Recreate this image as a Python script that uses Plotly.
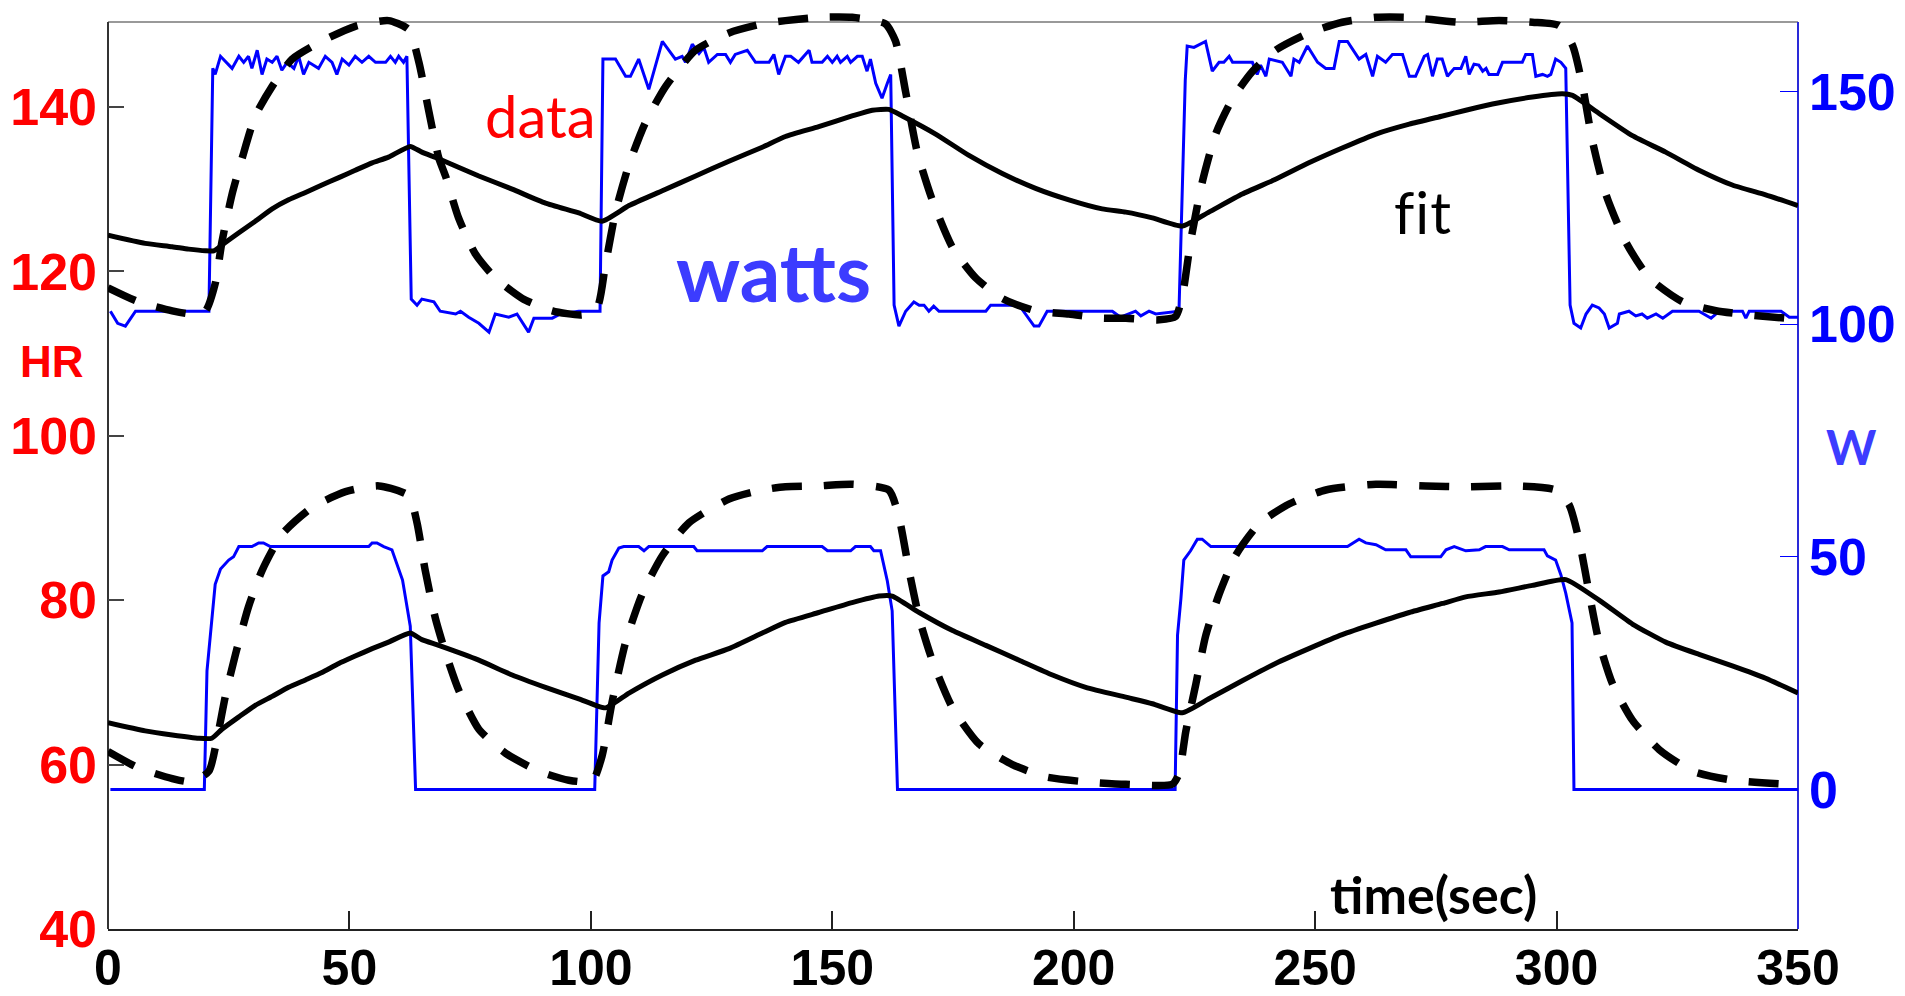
import plotly.graph_objects as go

# ---------------- data ----------------
# heart rate data, upper run (time s, HR bpm)
hr_upper = [(0, 124.4), (7.7, 123.4), (13.3, 123.0), (16.7, 122.7), (20.2, 122.5), (21.9, 122.5),
            (23.6, 123.2), (27.1, 124.7), (30.5, 126.1), (34.0, 127.6), (37.4, 128.7), (40.9, 129.6),
            (44.3, 130.5), (47.8, 131.4), (51.2, 132.3), (54.7, 133.2), (58.1, 133.9), (62.6, 135.2),
            (65.0, 134.5), (68.5, 133.7), (76.8, 131.6), (83.7, 130.0), (90.6, 128.3), (97.5, 127.1),
            (102.3, 126.1), (107.9, 128.0), (114.8, 129.8), (121.7, 131.6), (128.6, 133.4), (135.5, 135.1),
            (140.3, 136.4), (147.2, 137.6), (154.1, 138.9), (158.3, 139.6), (161.7, 139.7), (164.5, 138.9),
            (171.4, 136.7), (178.3, 134.1), (185.2, 131.9), (192.1, 130.1), (199.0, 128.7), (205.9, 127.6),
            (210.8, 127.2), (216.3, 126.5), (222.5, 125.5), (228.0, 127.2), (234.9, 129.4), (241.8, 131.2),
            (248.7, 133.2), (255.6, 135.0), (262.6, 136.7), (269.5, 137.9), (276.4, 138.9), (281.2, 139.6),
            (288.1, 140.5), (295.0, 141.2), (301.2, 141.6), (303.3, 141.4), (308.8, 139.2), (315.7, 136.5),
            (322.6, 134.5), (329.5, 132.3), (336.4, 130.5), (343.3, 129.3), (350, 128.0)]

# heart rate data, lower run
hr_lower = [(0, 65.1), (7.7, 64.1), (13.3, 63.6), (18.8, 63.2), (21.5, 63.2), (23.6, 64.3), (27.1, 65.8),
            (30.5, 67.2), (34.0, 68.3), (37.4, 69.4), (40.9, 70.3), (44.3, 71.2), (47.8, 72.3), (51.2, 73.2),
            (54.7, 74.1), (58.1, 74.9), (62.6, 76.0), (65.0, 75.2), (68.5, 74.5), (76.8, 72.7), (83.7, 70.9),
            (90.6, 69.4), (97.5, 68.0), (103.0, 66.9), (107.9, 68.7), (114.8, 70.9), (121.7, 72.7),
            (128.6, 74.1), (135.5, 76.0), (140.3, 77.3), (147.2, 78.5), (154.1, 79.7), (159.7, 80.5),
            (162.4, 80.5), (168.0, 78.5), (174.9, 76.3), (181.8, 74.5), (188.7, 72.7), (195.6, 70.9),
            (202.5, 69.4), (210.8, 68.2), (216.3, 67.4), (222.5, 66.3), (228.0, 68.0), (234.9, 70.2),
            (241.8, 72.3), (248.7, 74.1), (255.6, 75.8), (262.6, 77.2), (269.5, 78.5), (276.4, 79.6),
            (281.2, 80.4), (288.1, 81.0), (295.0, 81.8), (301.9, 82.5), (308.8, 80.0), (315.7, 77.1),
            (322.6, 74.9), (329.5, 73.4), (336.4, 72.0), (343.3, 70.5), (350, 68.7)]

# model fit, upper run
fit_upper = [(0, 118.0), (6.3, 116.3), (13.3, 115.2), (17.4, 114.8), (20.2, 115.2), (22.2, 118.5),
             (23.6, 123.6), (25.7, 129.4), (27.8, 133.8), (30.5, 138.9), (34.0, 142.5), (38.1, 145.8),
             (44.3, 148.0), (51.2, 149.8), (58.1, 150.5), (62.3, 149.4), (64.4, 145.4), (66.4, 139.6),
             (68.5, 133.8), (69.9, 131.6), (72.6, 126.5), (76.1, 122.1), (80.2, 119.2), (85.8, 116.7),
             (92.0, 115.2), (98.2, 114.7), (101.3, 115.6), (103.0, 120.7), (105.1, 127.2), (107.9, 133.0),
             (111.3, 138.1), (115.5, 142.5), (121.7, 146.9), (128.6, 149.0), (135.5, 150.1), (140.3, 150.5),
             (147.2, 150.9), (154.1, 150.9), (161.0, 150.1), (163.1, 148.0), (165.2, 141.8), (167.6, 134.5),
             (170.7, 128.7), (174.9, 122.9), (179.7, 119.2), (185.2, 116.7), (192.1, 115.2), (199.0, 114.8),
             (205.9, 114.3), (210.8, 114.3), (217.7, 114.1), (221.1, 114.5), (222.5, 117.0), (224.2, 123.6),
             (226.6, 130.8), (229.4, 136.7), (232.9, 141.0), (237.0, 144.3), (241.8, 146.9), (248.7, 149.0),
             (255.6, 150.3), (262.6, 150.9), (269.5, 150.9), (279.8, 150.3), (288.1, 150.5), (295.0, 150.3),
             (300.5, 149.9), (303.3, 147.5), (305.4, 142.5), (307.4, 135.9), (310.2, 129.4), (314.3, 123.6),
             (319.2, 119.2), (326.1, 116.3), (333.0, 115.2), (339.9, 114.7), (347.5, 114.3)]

# model fit, lower run
fit_lower = [(0, 61.6), (6.3, 59.6), (13.3, 58.3), (17.4, 57.9), (20.9, 59.2), (22.6, 63.2), (24.3, 68.3),
             (26.4, 73.4), (29.1, 79.2), (31.9, 83.6), (36.0, 88.0), (42.3, 91.3), (49.2, 93.2), (56.1, 93.9),
             (62.3, 92.7), (64.0, 89.4), (65.7, 83.6), (67.8, 77.8), (69.9, 73.6), (72.6, 69.1), (76.8, 64.3),
             (82.3, 61.4), (89.2, 59.2), (95.4, 58.1), (100.3, 58.0), (102.3, 61.0), (104.4, 67.6),
             (107.2, 74.9), (110.6, 80.7), (114.8, 85.4), (120.3, 89.4), (128.6, 92.3), (135.5, 93.4),
             (140.3, 93.8), (147.2, 93.9), (154.1, 94.1), (161.7, 93.4), (163.8, 90.1), (165.9, 83.6),
             (168.0, 77.8), (170.7, 72.7), (174.9, 66.9), (180.4, 62.5), (187.3, 60.0), (194.2, 58.5),
             (202.5, 57.9), (210.8, 57.6), (220.4, 57.6), (221.8, 58.9), (223.2, 64.0), (225.3, 69.8),
             (227.3, 75.6), (230.1, 80.7), (233.5, 85.4), (238.4, 89.3), (244.6, 91.7), (252.2, 93.4),
             (262.6, 94.1), (272.9, 93.9), (281.2, 93.8), (291.6, 93.9), (299.8, 93.4), (302.6, 91.6),
             (304.7, 87.2), (306.8, 80.7), (308.8, 74.9), (311.6, 69.8), (315.7, 65.4), (321.3, 61.8),
             (328.2, 59.2), (336.4, 58.1), (347.5, 57.6)]

# power (watts), upper run
watts_upper = [(0.5, 102.8), (2.0, 100.2), (3.6, 99.6), (5.7, 102.8), (20.9, 102.8), (21.7, 155.0),
               (22.2, 153.7), (23.3, 157.6), (25.7, 155.0), (27.1, 157.6), (28.1, 156.3), (29.1, 157.6),
               (29.8, 155.0), (30.9, 158.9), (31.9, 153.7), (32.9, 157.0), (34.0, 156.3), (35.0, 157.6),
               (36.0, 154.6), (37.1, 156.3), (38.5, 155.0), (39.5, 157.6), (40.5, 153.7), (41.6, 156.3),
               (43.6, 155.0), (45.0, 157.6), (46.4, 156.3), (47.4, 153.7), (48.5, 157.0), (49.9, 155.7),
               (51.2, 157.6), (52.6, 156.3), (54.0, 157.6), (55.4, 156.3), (57.5, 156.3), (58.5, 157.6),
               (59.5, 156.3), (60.2, 157.6), (61.2, 156.3), (61.9, 157.6), (62.8, 105.4), (64.0, 104.1),
               (65.0, 105.4), (67.5, 104.8), (68.8, 102.8), (72.0, 102.2), (73.0, 102.8), (74.7, 101.5),
               (76.8, 100.2), (78.9, 98.3), (80.2, 102.2), (83.0, 101.5), (84.7, 102.2), (87.1, 98.3),
               (88.2, 101.3), (92.0, 101.3), (93.7, 102.2), (97.5, 102.8), (101.9, 102.8), (102.5, 157.0),
               (105.1, 157.0), (107.2, 153.3), (108.2, 153.3), (109.9, 157.0), (112.0, 150.5), (114.8, 160.8),
               (117.5, 157.0), (118.9, 157.6), (119.6, 156.3), (121.0, 160.2), (122.4, 158.2), (123.4, 159.5),
               (124.4, 156.3), (126.2, 158.0), (127.9, 158.0), (128.9, 156.3), (129.9, 158.0), (132.4, 158.9),
               (134.1, 156.3), (136.9, 156.3), (137.9, 158.0), (138.9, 153.7), (140.3, 157.6), (141.4, 157.6),
               (143.0, 156.3), (145.2, 158.9), (145.8, 156.3), (147.9, 156.3), (149.0, 157.6), (150.0, 156.3),
               (151.0, 157.6), (151.7, 156.3), (153.1, 157.6), (153.8, 156.3), (155.2, 157.6), (156.2, 157.6),
               (157.2, 154.4), (157.9, 157.0), (159.0, 151.8), (160.3, 148.6), (161.4, 151.8), (162.1, 153.7),
               (162.8, 104.1), (163.8, 99.6), (165.2, 102.8), (166.9, 104.8), (168.0, 104.1), (169.0, 104.1),
               (170.0, 102.8), (171.0, 103.9), (172.1, 102.8), (181.8, 102.8), (182.8, 104.1), (188.7, 104.1),
               (191.8, 99.6), (192.8, 99.6), (194.5, 102.8), (208.0, 102.8), (209.7, 101.5), (211.5, 102.2),
               (212.8, 102.8), (213.9, 101.8), (215.6, 102.8), (217.0, 102.2), (221.8, 102.8), (223.1, 152.4),
               (223.5, 159.8), (224.9, 159.5), (227.3, 160.8), (228.7, 154.4), (230.1, 156.3), (231.1, 156.3),
               (232.2, 157.6), (232.9, 156.3), (237.0, 156.3), (238.0, 153.7), (238.7, 155.7), (239.8, 153.3),
               (240.5, 157.0), (243.2, 156.3), (245.0, 153.3), (245.6, 157.0), (246.7, 156.3), (248.4, 159.8),
               (250.5, 156.3), (252.2, 155.0), (253.9, 155.0), (255.0, 160.8), (256.7, 160.8), (259.1, 157.0),
               (260.5, 158.0), (261.9, 153.3), (262.9, 157.6), (264.6, 156.3), (266.0, 158.0), (268.1, 158.0),
               (269.5, 153.3), (270.8, 153.3), (272.6, 157.6), (273.3, 158.0), (274.3, 153.3), (275.3, 157.0),
               (276.3, 157.0), (277.4, 153.3), (278.8, 155.0), (280.2, 155.0), (281.2, 157.6), (281.9, 153.7),
               (282.9, 155.9), (283.9, 155.7), (284.7, 154.4), (285.4, 155.0), (286.0, 153.7), (287.8, 153.7),
               (288.8, 156.3), (292.9, 156.3), (293.6, 158.0), (295.0, 158.0), (295.7, 153.3), (297.1, 153.7),
               (298.1, 153.3), (298.8, 153.7), (299.8, 157.0), (300.9, 156.3), (301.9, 155.0), (302.8, 104.1),
               (303.6, 100.2), (305.0, 99.2), (306.1, 102.2), (307.4, 104.1), (308.8, 103.5), (309.9, 102.2),
               (310.9, 99.2), (312.6, 100.2), (313.0, 102.2), (315.0, 102.8), (316.4, 101.8), (317.7, 102.2),
               (318.8, 101.3), (320.6, 102.2), (322.0, 101.3), (324.0, 102.8), (329.5, 102.8), (332.0, 101.3),
               (333.7, 102.8), (338.5, 102.8), (339.2, 101.3), (339.9, 102.8), (346.5, 102.8), (348.2, 101.5),
               (350.0, 101.5)]

# power (watts), lower run
watts_lower = [(0.5, 0), (19.95, 0), (20.5, 25.5), (22.2, 44.1), (23.3, 47.4), (25.0, 49.3), (26.0, 50.0),
               (27.1, 52.2), (29.8, 52.2), (31.2, 53.0), (32.2, 53.0), (33.6, 52.2), (54.0, 52.2), (54.7, 53.0),
               (55.7, 53.0), (57.1, 52.2), (58.8, 51.5), (61.0, 45.0), (62.6, 35.1), (63.7, 0), (100.8, 0),
               (101.7, 35.8), (102.5, 45.9), (103.7, 46.8), (104.4, 49.3), (105.8, 51.9), (106.8, 52.2),
               (109.9, 52.2), (111.0, 51.3), (112.0, 52.2), (121.3, 52.2), (122.0, 51.3), (135.5, 51.3),
               (136.5, 52.2), (147.9, 52.2), (149.0, 51.3), (153.8, 51.3), (154.8, 52.2), (157.9, 52.2),
               (158.6, 51.3), (160.0, 51.3), (161.4, 44.8), (162.4, 38.4), (163.5, 0), (221.0, 0),
               (221.5, 33.2), (222.2, 41.0), (222.8, 49.3), (224.2, 51.3), (225.6, 53.8), (226.6, 53.8),
               (228.4, 52.2), (256.7, 52.2), (259.1, 53.8), (260.5, 53.0), (262.6, 52.6), (264.6, 51.5),
               (268.8, 51.5), (269.8, 50.0), (276.0, 50.0), (277.1, 51.5), (278.8, 52.2), (281.2, 51.3),
               (284.0, 51.5), (285.3, 52.2), (288.8, 52.2), (290.2, 51.5), (297.4, 51.5), (298.1, 50.2),
               (299.8, 49.3), (300.9, 46.1), (301.9, 42.2), (303.2, 35.8), (303.6, 0), (350, 0)]

x_ticks = [0, 50, 100, 150, 200, 250, 300, 350]
hr_ticks = [40, 60, 80, 100, 120, 140]
w_ticks = [0, 50, 100, 150]

# ---------------- figure ----------------
FIG_W, FIG_H = 1905, 996
M_L, M_R, M_T, M_B = 108, 107, 10, 67
plot_h = FIG_H - M_T - M_B
frame_top = (FIG_H - M_B - 22) / plot_h   # paper y of the drawn top border

fig = go.Figure()


def xs(pts):
    return [p[0] for p in pts]


def ys(pts):
    return [p[1] for p in pts]


BLUE = "#0000ff"
for pts in (watts_upper, watts_lower):
    fig.add_trace(go.Scatter(x=xs(pts), y=ys(pts), mode="lines", yaxis="y",
                             line=dict(color=BLUE, width=3), hoverinfo="skip", showlegend=False))

for pts in (hr_upper, hr_lower):
    fig.add_trace(go.Scatter(x=xs(pts), y=ys(pts), mode="lines", yaxis="y2",
                             line=dict(color="black", width=5, shape="spline", smoothing=0.5),
                             hoverinfo="skip", showlegend=False))

for pts in (fit_upper, fit_lower):
    fig.add_trace(go.Scatter(x=xs(pts), y=ys(pts), mode="lines", yaxis="y2",
                             line=dict(color="black", width=7.5, dash="30px,22px", shape="spline", smoothing=0.6),
                             hoverinfo="skip", showlegend=False))

TICK_FONT = "Liberation Sans, Arial, sans-serif"
LABEL_FONT = "Lato, 'Open Sans', sans-serif"

fig.update_layout(
    width=FIG_W, height=FIG_H,
    margin=dict(l=M_L, r=M_R, t=M_T, b=M_B, pad=0, autoexpand=False),
    paper_bgcolor="white", plot_bgcolor="white",
    xaxis=dict(range=[0, 350], tickvals=x_ticks, ticktext=[str(v) for v in x_ticks],
               showgrid=False, zeroline=False, showline=True, linecolor="#222", linewidth=2,
               ticks="inside", ticklen=18, tickwidth=1.5, tickcolor="#222", automargin=False,
               ticklabelstandoff=-6,
               tickfont=dict(family=TICK_FONT, size=50, color="black", weight="bold"),
               anchor="y2"),
    yaxis=dict(range=[-30, 167.55], side="right", tickvals=w_ticks, ticktext=[str(v) for v in w_ticks],
               showgrid=False, zeroline=False, showline=False, automargin=False,
               ticks="inside", ticklen=18, tickwidth=1, tickcolor=BLUE, ticklabelstandoff=10,
               tickfont=dict(family=TICK_FONT, size=52, color=BLUE, weight="bold")),
    yaxis2=dict(range=[40, 151.79], side="left", overlaying="y", tickvals=hr_ticks,
                ticktext=[str(v) for v in hr_ticks], automargin=False,
                showgrid=False, zeroline=False, showline=False,
                ticks="inside", ticklen=16, tickwidth=1.5, tickcolor="#444", ticklabelstandoff=10,
                tickfont=dict(family=TICK_FONT, size=52, color="#ff0000", weight="bold")),
    shapes=[
        dict(type="line", xref="paper", yref="paper", x0=0, x1=1, y0=frame_top, y1=frame_top,
             line=dict(color="#777", width=1.5), layer="below"),
        dict(type="line", xref="paper", yref="paper", x0=0, x1=0, y0=0, y1=frame_top,
             line=dict(color="#333", width=2), layer="below"),
        dict(type="line", xref="paper", yref="paper", x0=1, x1=1, y0=0, y1=frame_top,
             line=dict(color="#2a2ad8", width=2), layer="below"),
    ],
    annotations=[
        dict(text="data", x=89.5, y=139.0, xref="x", yref="y2", showarrow=False,
             xanchor="center", yanchor="middle",
             font=dict(family=LABEL_FONT, size=58, color="#ff0000")),
        dict(text="watts", x=137.8, y=120.1, xref="x", yref="y2", showarrow=False,
             xanchor="center", yanchor="middle",
             font=dict(family=LABEL_FONT, size=80, color="#3c3cff", weight="bold")),
        dict(text='<span style="font-variant-ligatures:none;letter-spacing:1px">fit</span>',
             x=272.4, y=127.3, xref="x", yref="y2", showarrow=False,
             xanchor="center", yanchor="middle",
             font=dict(family=LABEL_FONT, size=58, color="black")),
        dict(text="time(sec)", x=274.6, y=44.3, xref="x", yref="y2", showarrow=False,
             xanchor="center", yanchor="middle",
             font=dict(family=LABEL_FONT, size=52, color="black", weight="bold")),
        dict(text="HR", x=-0.0331, y=0.618, xref="paper", yref="paper", showarrow=False,
             xanchor="center", yanchor="middle",
             font=dict(family=TICK_FONT, size=44, color="#ff0000", weight="bold")),
        dict(text="W", x=1.0314, y=0.5245, xref="paper", yref="paper", showarrow=False,
             xanchor="center", yanchor="middle",
             font=dict(family=LABEL_FONT, size=48, color="#3c3cff", weight="bold")),
    ],
)

fig.write_html("out.html")
